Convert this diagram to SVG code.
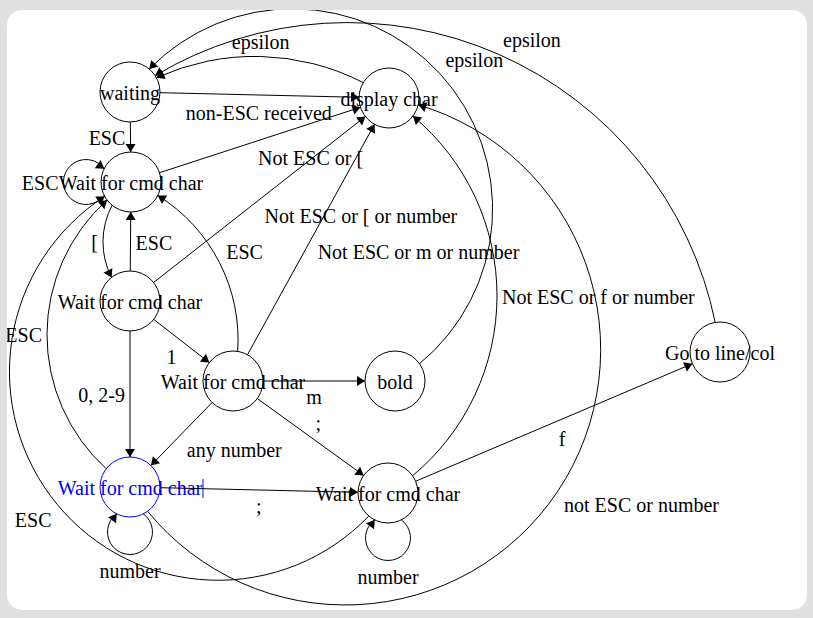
<svg xmlns="http://www.w3.org/2000/svg" width="813" height="618" viewBox="0 0 813 618">
<defs>
<clipPath id="panel"><rect x="7" y="10" width="800" height="600" rx="15"/></clipPath>
<marker id="ah" viewBox="-9 -6 10 12" markerWidth="10" markerHeight="12" refX="0" refY="0" orient="auto" markerUnits="userSpaceOnUse"><path d="M0,0 L-8,-5 L-8,5 Z" fill="#000"/></marker>
</defs>
<style>
.st{fill:none;stroke:#000;stroke-width:1}
.sel{fill:none;stroke:#0000ff;stroke-width:1}
.ln{fill:none;stroke:#000;stroke-width:1;marker-end:url(#ah)}
.lp{fill:none;stroke:#000;stroke-width:1}
.ah{fill:#000;stroke:none}
text{font-family:"Liberation Serif","Times New Roman",serif;font-size:20px;fill:#000;text-anchor:middle}
.bt{fill:#0000ff}
</style>
<rect x="0" y="0" width="813" height="618" fill="#e0e0e0"/>
<rect x="7" y="10" width="800" height="600" rx="15" fill="#ffffff"/>
<g clip-path="url(#panel)">
<g id="node-waiting"><circle class="st" cx="130" cy="92" r="30"/><text x="130" y="100">waiting</text></g>
<g id="node-display"><circle class="st" cx="389" cy="98" r="30"/><text x="389" y="106">display char</text></g>
<g id="node-wait1"><circle class="st" cx="131" cy="182" r="30"/><text x="131" y="190">Wait for cmd char</text></g>
<g id="node-wait2"><circle class="st" cx="130" cy="301" r="30"/><text x="130" y="309">Wait for cmd char</text></g>
<g id="node-wait3"><circle class="st" cx="233" cy="381" r="30"/><text x="233" y="389">Wait for cmd char</text></g>
<g id="node-bold"><circle class="st" cx="395" cy="381" r="30"/><text x="395" y="389">bold</text></g>
<g id="node-wait4"><circle class="sel" cx="130" cy="487" r="30"/><text class="bt" x="130" y="495">Wait for cmd char</text><line x1="203" y1="479" x2="203" y2="498" stroke="#0000ff" stroke-width="1"/></g>
<g id="node-wait5"><circle class="st" cx="388" cy="493" r="30"/><text x="388" y="501">Wait for cmd char</text></g>
<g id="node-goto"><circle class="st" cx="720" cy="352" r="30"/><text x="720" y="360">Go to line/col</text></g>
<g id="connectors">
<path class="ln" d="M160,92.7 L359,97.3"/>
<text x="258.8" y="119.8">non-ESC received</text>
<path class="ln" d="M363.25,82.6 A237.2,237.2 0 0 0 156.4,77.8"/>
<text x="260.7" y="48.7">epsilon</text>
<path class="ln" d="M130.33,122 L130.67,152"/>
<text x="107" y="145">ESC</text>
<path class="lp" d="M104.2,195.2 A22.5,22.5 0 1 1 104.2,168.8"/>
<polygon class="ah" points="104.2,168.8 100.67,160.05 94.79,168.15"/>
<text x="40.2" y="190">ESC</text>
<path class="ln" d="M159.53,172.71 L360.47,107.29"/>
<text x="310.6" y="165.3">Not ESC or [</text>
<path class="ln" d="M112.2,205.14 A78.12,78.12 0 0 0 111.59,277.55"/>
<text x="94.5" y="249.3">[</text>
<path class="ln" d="M130.25,271 L130.75,212"/>
<text x="153.9" y="249.5">ESC</text>
<path class="ln" d="M153.61,282.49 L365.39,116.51"/>
<text x="360.9" y="222.5">Not ESC or [ or number</text>
<path class="ln" d="M153.69,319.4 L209.31,362.6"/>
<text x="171.4" y="364">1</text>
<path class="ln" d="M130,331 L130,457"/>
<text x="101.7" y="402">0, 2-9</text>
<path class="ln" d="M237.67,351.4 A169.8,169.8 0 0 0 157.75,195.48"/>
<text x="244.6" y="259">ESC</text>
<path class="ln" d="M247.48,354.73 L374.52,124.27"/>
<text x="418.5" y="259.4">Not ESC or m or number</text>
<path class="ln" d="M263,381 L365,381"/>
<text x="314" y="404">m</text>
<path class="ln" d="M212.09,402.52 L150.91,465.48"/>
<text x="234.3" y="456.7">any number</text>
<path class="ln" d="M257.32,398.57 L363.68,475.43"/>
<text x="318.3" y="430">;</text>
<path class="ln" d="M419.6,363.6 A200.2,200.2 0 1 0 149.2,69.1"/>
<text x="474.3" y="67">epsilon</text>
<path class="ln" d="M106.2,468.7 A181,181 0 0 1 107.1,200.1"/>
<text x="23.7" y="342.2">ESC</text>
<path class="lp" d="M143.23,513.8 A22.5,22.5 0 1 1 116.77,513.8"/>
<polygon class="ah" points="116.77,513.8 108.02,517.33 116.11,523.21"/>
<text x="130" y="577.5">number</text>
<path class="ln" d="M159.99,487.7 L358.01,492.3"/>
<text x="258.9" y="513">;</text>
<path class="ln" d="M147.6,511.3 A255.4,255.4 0 1 0 418.2,104.8"/>
<text x="641.5" y="512.4">not ESC or number</text>
<path class="ln" d="M368.8,516 A208.7,208.7 0 1 1 104.7,196.4"/>
<text x="33.2" y="526.9">ESC</text>
<path class="lp" d="M401.23,519.8 A22.5,22.5 0 1 1 374.77,519.8"/>
<polygon class="ah" points="374.77,519.8 366.02,523.33 374.11,529.21"/>
<text x="388" y="583.5">number</text>
<path class="ln" d="M415.61,481.27 L692.39,363.73"/>
<text x="562.1" y="445.6">f</text>
<path class="ln" d="M412.5,475.8 A234,234 0 0 0 412.9,116.1"/>
<text x="598.4" y="304">Not ESC or f or number</text>
<path class="ln" d="M715.2,322.4 A375.4,375.4 0 0 0 155.1,75.6"/>
<text x="531.9" y="47.1">epsilon</text>
</g>
</g>
</svg>
